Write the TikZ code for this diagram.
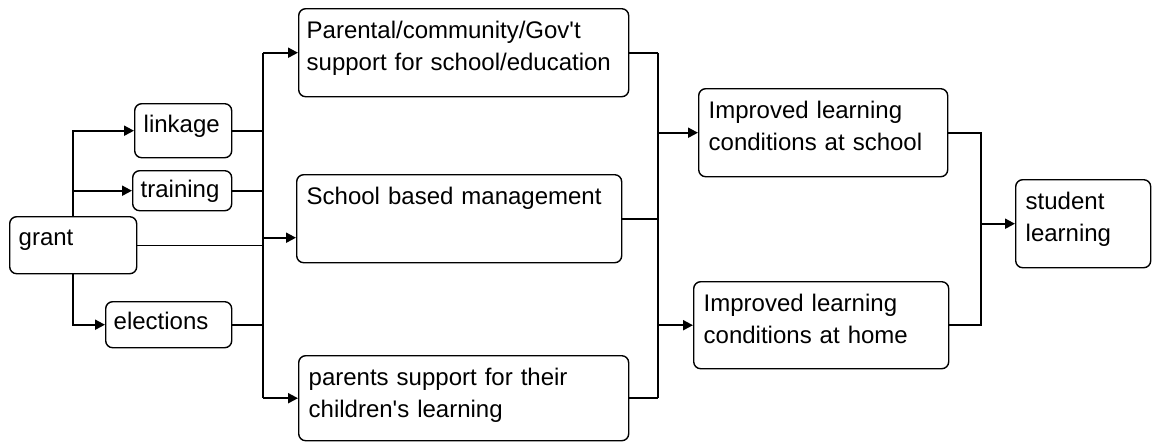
\documentclass[tikz,border=0pt]{standalone}
\usepackage{fontspec}
\newfontfamily\lsans{Liberation Sans}
\usetikzlibrary{arrows.meta,calc}
\tikzset{
  every node/.style={font=\lsans\fontsize{12pt}{15.75pt}\selectfont},
  box/.style={draw, line width=0.7pt, rounded corners=3.5pt, align=left,
    anchor=north west, inner xsep=5pt, inner ysep=0pt, text height=15pt},
  conn/.style={line width=1pt},
  thinconn/.style={line width=0.6pt},
  arr/.style={line width=1pt, -{Triangle[length=5pt,width=5pt]}}
}
\begin{document}
\begin{tikzpicture}[x=0.5pt,y=-0.5pt]
\useasboundingbox (0,0) rectangle (1152,441);
% boxes
\node[box, inner xsep=4.5pt, text width=54.5pt, text height=14.5pt, text depth=14pt] (grant) at (9,216) {grant};
\node[box, inner xsep=4.5pt, text width=39.5pt, text height=14.5pt, text depth=12.5pt] (linkage) at (134,103) {linkage};
\node[box, inner xsep=4pt, text width=41.5pt, text height=13.5pt, text depth=6.5pt] (training) at (132,170) {training};
\node[box, inner xsep=4pt, text width=55pt, text height=14pt, text depth=9pt] (elections) at (105,301) {elections};
\node[box, inner xsep=4pt, text width=157pt, text depth=29pt] (parental) at (298,8) {Parental/community/Gov't\\support for school/education};
\node[box, text width=152.5pt, text depth=29pt] (sbm) at (296,174) {School based management};
\node[box, text width=155pt, text depth=27.5pt] (parents) at (298,355) {parents support for their\\children's learning};
\node[box, text width=114.5pt, text depth=29pt] (ilcs) at (698,88) {Improved learning\\conditions at school};
\node[box, text width=117.5pt, text depth=28.5pt] (ilch) at (693,281) {Improved learning\\conditions at home};
\node[box, text width=57.5pt, text depth=29pt] (student) at (1015,179) {student\\learning};
% bus coordinates
\coordinate (b1) at (263,0);
\coordinate (b2) at (658,0);
\coordinate (b3) at (981,0);
\coordinate (sbmin) at ($(sbm.west)+(0,19)$);
% grant fan-out
\draw[arr] (grant.north) |- (linkage.west);
\draw[arr] (grant.north) |- (training.west);
\draw[arr] (grant.south) |- (elections.west);
% into bus 1
\draw[conn] (linkage.east) -- (linkage.east -| b1);
\draw[conn] (training.east) -- (training.east -| b1);
\draw[conn] (elections.east) -- (elections.east -| b1);
\draw[thinconn] (grant.east) -- (grant.east -| b1);
\draw[conn] (parental.west -| b1) -- (parents.west -| b1);
\draw[arr] (parental.west -| b1) -- (parental.west);
\draw[arr] (sbmin -| b1) -- (sbmin);
\draw[arr] (parents.west -| b1) -- (parents.west);
% bus 2
\draw[conn] (parental.east) -- (parental.east -| b2);
\draw[conn] (sbm.east) -- (sbm.east -| b2);
\draw[conn] (parents.east) -- (parents.east -| b2);
\draw[conn] (parental.east -| b2) -- (parents.east -| b2);
\draw[arr] (ilcs.west -| b2) -- (ilcs.west);
\draw[arr] (ilch.west -| b2) -- (ilch.west);
% bus 3
\draw[conn] (ilcs.east) -- (ilcs.east -| b3) -- (ilch.east -| b3) -- (ilch.east);
\draw[arr] (student.west -| b3) -- (student.west);
\end{tikzpicture}
\end{document}
